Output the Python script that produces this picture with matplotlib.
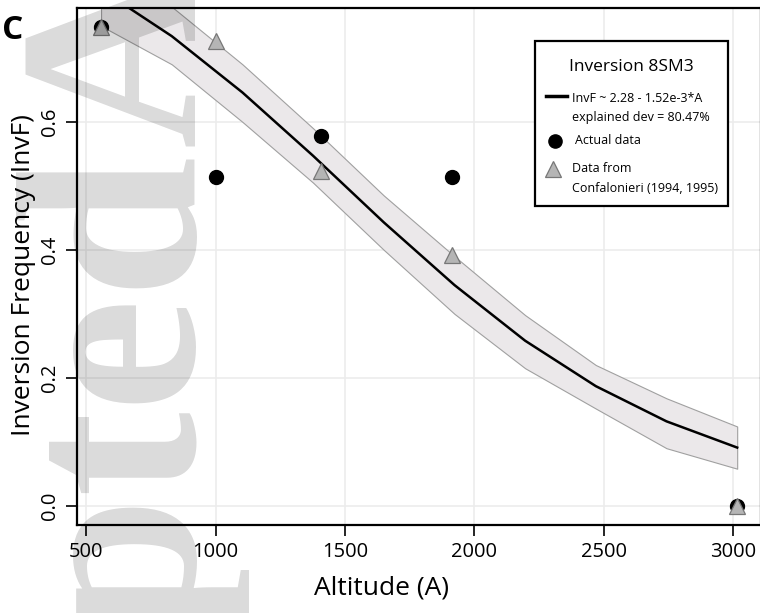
import matplotlib
matplotlib.use("Agg")
import matplotlib.pyplot as plt
from matplotlib.lines import Line2D
from matplotlib.patches import Rectangle

# ---- data ----
fit_altitude = [558, 831, 1104, 1377, 1650, 1923, 2196, 2469, 2742, 3015]
fit_value    = [0.807, 0.734, 0.646, 0.547, 0.443, 0.345, 0.258, 0.187, 0.132, 0.091]
fit_lower    = [0.750, 0.690, 0.600, 0.505, 0.400, 0.300, 0.215, 0.152, 0.090, 0.058]
fit_upper    = [0.860, 0.780, 0.690, 0.590, 0.485, 0.390, 0.298, 0.220, 0.168, 0.124]

actual_altitude = [558, 1000, 1408, 1914, 3015]
actual_freq     = [0.748, 0.514, 0.578, 0.514, 0.0]

conf_altitude = [558, 1000, 1408, 1914, 3015]
conf_freq     = [0.748, 0.727, 0.523, 0.392, 0.0]

x_ticks = [500, 1000, 1500, 2000, 2500, 3000]
y_ticks = [0.0, 0.2, 0.4, 0.6]
y_ticklabels = ["0.0", "0.2", "0.4", "0.6"]

legend_title = "Inversion 8SM3"
legend_fit = ["InvF ~ 2.28 - 1.52e-3*A", "explained dev = 80.47%"]
legend_actual = ["Actual data"]
legend_conf = ["Data from", "Confalonieri (1994, 1995)"]

watermark_words = ["Accepted", "Article"]

FONT = ["Open Sans", "DejaVu Sans"]
plt.rcParams["font.family"] = FONT

W, H = 760, 613
fig = plt.figure(figsize=(W / 100, H / 100), dpi=100)
ax_left, ax_right, ax_top, ax_bottom = 77, 761, 8, 525
ax = fig.add_axes([ax_left / W, 1 - ax_bottom / H,
                   (ax_right - ax_left) / W, (ax_bottom - ax_top) / H])

ax.set_xlim(465, 3107)
ax.set_ylim(-0.030, 0.778)

ax.set_xticks(x_ticks)
ax.set_yticks(y_ticks)
ax.set_yticklabels(y_ticklabels, rotation=90, va="center")
ax.grid(True, color="#ececec", linewidth=1.2, zorder=0)
ax.set_axisbelow(True)

ax.tick_params(axis="both", direction="out", length=8, width=1.2,
               labelsize=14.5, color="black", pad=4)
for s in ax.spines.values():
    s.set_linewidth(1.6)

ax.fill_between(fit_altitude, fit_lower, fit_upper, facecolor="#ebe8ea",
                edgecolor="#a0a0a0", linewidth=0.8, zorder=2)
ax.plot(fit_altitude, fit_value, color="black", linewidth=1.8, zorder=3)
ax.plot(actual_altitude, actual_freq, "o", color="black", markersize=10,
        zorder=4, clip_on=False)
ax.plot(conf_altitude, conf_freq, "^", markerfacecolor="#b5b5b5",
        markeredgecolor="#777777", markeredgewidth=0.9, markersize=11,
        zorder=5, clip_on=False)

ax.set_xlabel("Altitude (A)", fontsize=19)
ax.set_ylabel("Inversion Frequency (InvF)", fontsize=19)
ax.xaxis.set_label_coords((381 - ax_left) / (ax_right - ax_left),
                          -(588 - ax_bottom) / (ax_bottom - ax_top),
                          transform=ax.transAxes)
ax.xaxis.label.set_va("center")
ax.yaxis.set_label_coords(-(77 - 24) / (ax_right - ax_left),
                          (ax_bottom - 275) / (ax_bottom - ax_top),
                          transform=ax.transAxes)
ax.yaxis.label.set_va("center")

# ---- legend box, laid out in figure pixels ----
def fx(px):
    return px / W

def fy(py):
    return 1 - py / H

fig.add_artist(Rectangle((fx(535), fy(206)), fx(728) - fx(535), fy(41) - fy(206),
                         transform=fig.transFigure, facecolor="white",
                         edgecolor="black", linewidth=1.6, zorder=10))
fig.text(fx(631), fy(65 + 6.2), legend_title, fontsize=12.5, ha="center",
         va="baseline", zorder=11)
fig.add_artist(Line2D([fx(546), fx(567)], [fy(96), fy(96)], color="black",
                      linewidth=2.5, transform=fig.transFigure, zorder=11))
fig.add_artist(Line2D([fx(555)], [fy(141)], marker="o", color="black",
                      markersize=9.5, linestyle="none",
                      transform=fig.transFigure, zorder=11))
fig.add_artist(Line2D([fx(553)], [fy(169)], marker="^", markersize=12,
                      markerfacecolor="#b5b5b5", markeredgecolor="#777777",
                      markeredgewidth=0.9, linestyle="none",
                      transform=fig.transFigure, zorder=11))
label_rows = [(572, 98, legend_fit[0]), (572, 117, legend_fit[1]),
              (575, 140, legend_actual[0]),
              (572, 168, legend_conf[0]), (572, 187, legend_conf[1])]
for px, py, txt in label_rows:
    fig.text(fx(px), fy(py + 4.5), txt, fontsize=9, ha="left",
             va="baseline", zorder=11)

fig.text(2 / W, 1 - 39 / H, "C", fontsize=24, fontweight="bold",
         ha="left", va="baseline", family=FONT)

# faint rotated watermark ("Accepted" ends near y=153 px, "Article" starts near y=146 px)
wm_style = dict(fontsize=184, fontweight="bold",
                family=["Liberation Serif", "DejaVu Serif"], rotation=90,
                rotation_mode="anchor", va="baseline", color="black",
                alpha=0.145, zorder=20)
fig.text(fx(193), fy(153), watermark_words[0], ha="right", **wm_style)
fig.text(fx(193), fy(146), watermark_words[1], ha="left", **wm_style)

fig.savefig("out.png", dpi=100)
